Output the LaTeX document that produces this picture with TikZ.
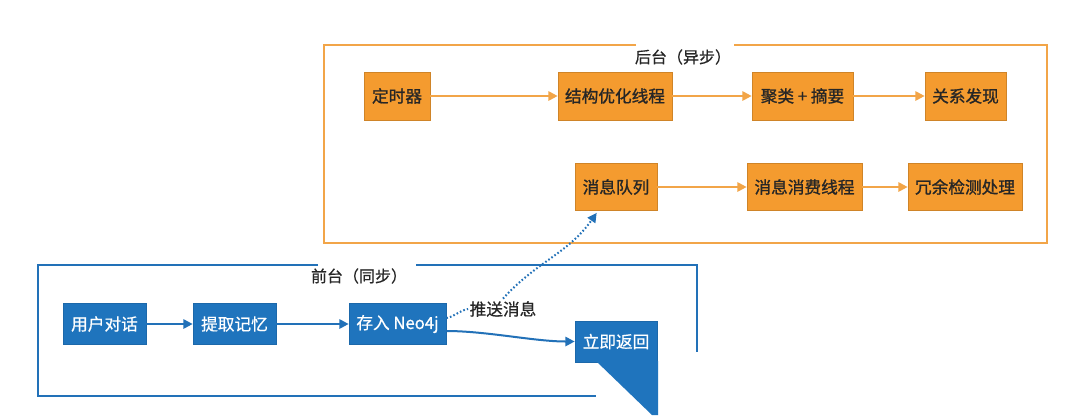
\documentclass[tikz,border=0pt]{standalone}
\usepackage{fontspec}
\setmainfont{Noto Sans CJK SC}
\newfontfamily\heavycjk[FakeBold=1.2]{Noto Sans CJK SC}
\newfontfamily\midcjk[FakeBold=0.6]{Noto Sans CJK SC}
\usetikzlibrary{arrows.meta,calc}
\definecolor{orfill}{HTML}{F49B2F}
\definecolor{orline}{HTML}{F2A548}
\definecolor{bluefill}{HTML}{1F74BD}
\definecolor{blueline}{HTML}{2271B8}
\definecolor{darktext}{HTML}{262626}
\tikzset{
  obox/.style={draw=orfill!85!black, line width=0.5pt, fill=orfill, text=darktext, font=\heavycjk\fontsize{12.5}{14}\selectfont, minimum height=36pt, inner sep=0pt},
  bbox/.style={draw=bluefill!90!black, line width=0.5pt, fill=bluefill, text=white, font=\midcjk\fontsize{12.5}{14}\selectfont, minimum height=31pt, inner sep=0pt},
  oarrow/.style={draw=orline, line width=1.5pt, -{Triangle[length=7pt,width=7pt]}},
  barrow/.style={draw=blueline, line width=1.5pt, -{Triangle[length=7pt,width=7pt]}},
  ggroup/.style={line width=1.5pt},
  gtitle/.style={font=\midcjk\fontsize{12}{13}\selectfont, text=darktext, inner sep=0pt},
  dotline/.style={draw=blueline, line width=1.5pt, dash pattern=on 1.2pt off 1.6pt},
}
\begin{document}
\begin{tikzpicture}[x=0.75pt,y=0.75pt]
\useasboundingbox[fill=white] (0,0) rectangle (1080,-415);
% back group frame
\draw[ggroup, draw=orline] (636,-45) -- (324,-45) -- (324,-243) -- (1047,-243) -- (1047,-45) -- (734,-45);
\node[gtitle] (bt) at (683,-57) {后台（异步）};
% front group frame
\draw[ggroup, draw=blueline] (318,-265) -- (38,-265) -- (38,-396) -- (596,-396);
\draw[ggroup, draw=blueline] (416,-265) -- (697,-265) -- (697,-352);
\node[gtitle] (ft) at (359,-276) {前台（同步）};
% orange nodes
\node[obox, minimum width=49.5pt] (timer) at (397,-96) {定时器};
\node[obox, minimum width=85.5pt] (opt) at (615,-96) {结构优化线程};
\node[obox, minimum width=75.75pt] (clu) at (802.5,-96) {聚类 + 摘要};
\node[obox, minimum width=60.75pt] (rel) at (965.5,-96) {关系发现};
\node[obox, minimum width=61.5pt, minimum height=35.25pt] (mq) at (616,-187) {消息队列};
\node[obox, minimum width=86.25pt, minimum height=35.25pt] (cons) at (804.5,-187) {消息消费线程};
\node[obox, minimum width=85.5pt, minimum height=35.25pt] (red) at (965,-187) {冗余检测处理};
% blue nodes
\node[bbox, minimum width=62.25pt] (user) at (104.5,-324) {用户对话};
\node[bbox, minimum width=62.25pt] (ext) at (234.5,-324) {提取记忆};
\node[bbox, minimum width=72.75pt] (neo) at (397.5,-324) {存入 Neo4j};
\node[bbox, minimum width=61.5pt] (ret) at (616,-341.5) {立即返回};
% artifact wedge
\fill[bluefill] (596,-361) -- (658,-361) -- (658,-415) -- (652,-415) -- cycle;
% label
\node[font=\midcjk\fontsize{12.5}{14}\selectfont, text=darktext, inner sep=1pt] (push) at (503,-309) {推送消息};
% orange arrows
\draw[oarrow] (timer) -- (opt);
\draw[oarrow] (opt) -- (clu);
\draw[oarrow] (clu) -- (rel);
\draw[oarrow] (mq) -- (cons);
\draw[oarrow] (cons) -- (red);
% blue arrows
\draw[barrow] (user) -- (ext);
\draw[barrow] (ext) -- (neo);
\draw[barrow] ($(neo.east)+(0,-7)$) to[out=0,in=180,looseness=0.8] (ret.west);
\draw[dotline] ($(neo.east)+(0,6)$) to[out=10,in=190] (push.west);
\draw[dotline, -{Triangle[length=7pt,width=7pt]}] ($(push.north)+(0,1)$) to[out=48,in=235] ($(mq.south west)+(22,-2)$);
\end{tikzpicture}
\end{document}
